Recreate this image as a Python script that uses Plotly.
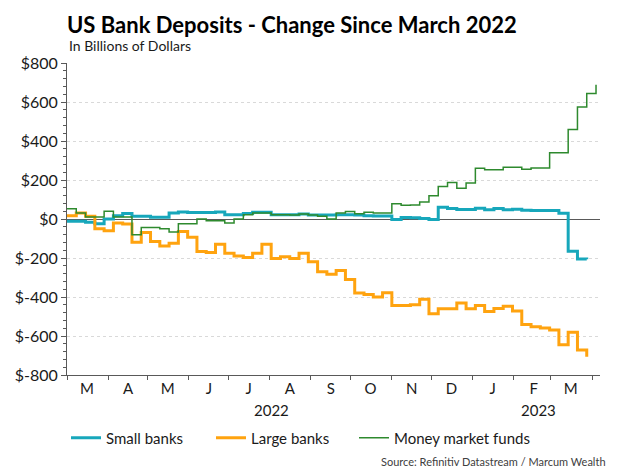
import plotly.graph_objects as go
import pandas as pd

# Weekly observations starting 2022-03-01
start_date = "2022-03-01"

small_banks = [-12, -12, -17, -24, 0, 17, 28, 14, 14, 9, 9, 31, 36, 33, 33, 33, 36, 22, 22, 28,
               35, 35, 22, 22, 22, 26, 21, 21, 20, 22, 22, 20, 17, 15, 15, -3, 8, 7, 3, -3,
               60, 54, 49, 49, 55, 47, 54, 48, 50, 45, 44, 43, 43, 30, -166, -205, -207]

large_banks = [17, 31, 14, -50, -60, -21, -26, -119, -69, -116, -138, -124, -64, -93, -167, -172, -129, -176, -190, -198,
               -176, -129, -202, -193, -202, -176, -219, -271, -283, -264, -310, -380, -387, -400, -378, -444, -444, -440, -412, -486,
               -460, -460, -431, -460, -443, -474, -459, -448, -472, -541, -552, -559, -569, -645, -581, -672, -707]

money_market = [52, 31, 10, 10, 40, 10, 10, -81, -43, -43, -50, -67, -24, -24, 0, -9, -9, -21, 0, 22,
                31, 31, 22, 22, 20, 26, 21, 14, 0, 31, 39, 27, 34, 31, 31, 78, 70, 72, 87, 119,
                167, 187, 158, 184, 260, 252, 252, 265, 265, 255, 262, 262, 340, 340, 459, 575, 643, 689]

month_letters = ["M", "A", "M", "J", "J", "A", "S", "O", "N", "D", "J", "F", "M"]
y_tick_values = [800, 600, 400, 200, 0, -200, -400, -600, -800]
y_tick_labels = ["$800", "$600", "$400", "$200", "$0", "$-200", "$-400", "$-600", "$-800"]
year_labels = ["2022", "2023"]

dates_banks = pd.date_range(start_date, periods=len(small_banks), freq="7D")
dates_mmf = pd.date_range(start_date, periods=len(money_market), freq="7D")

month_starts = pd.date_range("2022-03-01", periods=14, freq="MS")
month_mids = [d + pd.Timedelta(days=15) for d in month_starts[:13]]

FONT = "Lato"
TXT = "#1a1a1a"

fig = go.Figure()
fig.add_trace(go.Scatter(x=dates_banks, y=small_banks, name="Small banks", mode="lines",
                         legend="legend",
                         line=dict(color="#17A7BB", width=3, shape="hv")))
fig.add_trace(go.Scatter(x=dates_banks, y=large_banks, name="Large banks", mode="lines",
                         legend="legend2",
                         line=dict(color="#FFA30F", width=3, shape="hv")))
fig.add_trace(go.Scatter(x=dates_mmf, y=money_market, name="Money market funds", mode="lines",
                         legend="legend3",
                         line=dict(color="#2E8A2E", width=1.5, shape="hv")))

leg_common = dict(orientation="h", xanchor="left", y=-0.202, yanchor="middle",
                  font=dict(size=15, family=FONT, color=TXT), bgcolor="rgba(0,0,0,0)")

fig.update_layout(
    width=618, height=468,
    margin=dict(l=67, r=18, t=63, b=93),
    paper_bgcolor="white", plot_bgcolor="white",
    font=dict(family=FONT, color=TXT, size=14),
    title=dict(text="<b>US Bank Deposits - Change Since March 2022</b>",
               x=67 / 618, xanchor="left", xref="container",
               y=1 - 25 / 468, yanchor="middle", yref="container",
               font=dict(size=22, family=FONT, color="#000000")),
    showlegend=True,
    legend=dict(x=(66 - 67) / 533, **leg_common),
    legend2=dict(x=(211 - 67) / 533, **leg_common),
    legend3=dict(x=(354 - 67) / 533, **leg_common),
    xaxis=dict(
        type="date",
        range=["2022-03-01", "2023-04-07"],
        tickmode="array", tickvals=month_mids, ticktext=month_letters,
        ticks="", showgrid=False, zeroline=False,
        showline=True, linecolor="#595959", linewidth=1,
        tickfont=dict(size=15, family=FONT, color=TXT),
        minor=dict(tickmode="array", tickvals=month_starts, ticks="outside",
                   ticklen=4, tickcolor="#595959", showgrid=False, gridcolor="rgba(0,0,0,0)"),
        fixedrange=True,
    ),
    yaxis=dict(
        range=[-800, 800],
        tickmode="array", tickvals=y_tick_values, ticktext=y_tick_labels,
        ticks="outside", ticklen=5, tickcolor="#595959",
        showgrid=True, gridcolor="#d9d9d9", griddash="dot", gridwidth=1,
        zeroline=True, zerolinecolor="#595959", zerolinewidth=1,
        showline=True, linecolor="#595959", linewidth=1,
        tickfont=dict(size=16, family=FONT, color=TXT),
        minor=dict(dtick=40, tick0=0, ticks="outside", ticklen=3, tickcolor="#595959",
                   showgrid=False, gridcolor="rgba(0,0,0,0)"),
        fixedrange=True,
    ),
    annotations=[
        dict(text="In Billions of Dollars", xref="paper", yref="paper", x=0.0, y=(375 - 46) / 312,
             xanchor="left", yanchor="middle", showarrow=False, font=dict(size=14, family=FONT, color=TXT)),
        dict(text=year_labels[0], xref="paper", yref="paper", x=(271 - 67) / 533, y=(375 - 410) / 312,
             xanchor="center", yanchor="middle", showarrow=False, font=dict(size=15, family=FONT, color=TXT)),
        dict(text=year_labels[1], xref="paper", yref="paper", x=(538 - 67) / 533, y=(375 - 410) / 312,
             xanchor="center", yanchor="middle", showarrow=False, font=dict(size=15, family=FONT, color=TXT)),
        dict(text="Source: Refinitiv Datastream / Marcum Wealth", xref="paper", yref="paper",
             x=(608 - 67) / 533, y=(375 - 462) / 312, xanchor="right", yanchor="middle",
             showarrow=False, font=dict(size=11, family=FONT, color="#404040")),
    ],
)

fig.write_html("out.html")
